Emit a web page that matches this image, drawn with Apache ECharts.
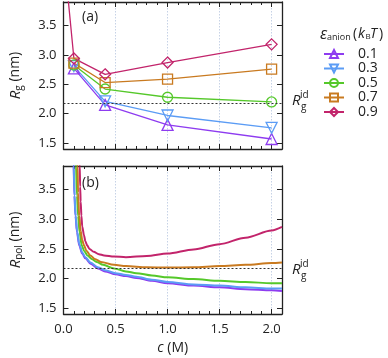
<!DOCTYPE html>
<html>
<head>
<meta charset="utf-8">
<script src="https://cdn.jsdelivr.net/npm/echarts@6/dist/echarts.min.js"></script>
<style>
html, body { margin: 0; padding: 0; background: #fff; }
#chart { width: 388px; height: 358px; }
</style>
</head>
<body>
<div id="chart"></div>
<script>
// legend entries (epsilon_anion in kBT)
var names = ['0.1', '0.3', '0.5', '0.7', '0.9'];

// panel (a): simulated Rg at four salt concentrations
var concA = [0.1, 0.4, 1.0, 2.0];
var concA09 = [0.02, 0.1, 0.4, 1.0, 2.0];
var rg01 = [2.77, 2.15, 1.81, 1.57];
var rg03 = [2.81, 2.21, 1.97, 1.76];
var rg05 = [2.83, 2.42, 2.28, 2.20];
var rg07 = [2.86, 2.53, 2.59, 2.76];
var rg09 = [4.40, 2.94, 2.67, 2.87, 3.18];

// panel (b): theory curves Rpol(c)
var pol01C = [0.093, 0.097, 0.105, 0.115, 0.13, 0.151, 0.18, 0.21, 0.26, 0.33, 0.4, 0.5, 0.6, 0.7, 0.85, 1.0, 1.25, 1.5, 1.75, 2.0, 2.1];
var pol01V = [4.30, 3.90, 3.40, 3.06, 2.78, 2.56, 2.42, 2.34, 2.25, 2.17, 2.12, 2.07, 2.04, 2.01, 1.96, 1.92, 1.88, 1.85, 1.82, 1.80, 1.79];
var pol03C = [0.094, 0.098, 0.106, 0.116, 0.131, 0.152, 0.18, 0.21, 0.26, 0.33, 0.4, 0.5, 0.6, 0.7, 0.85, 1.0, 1.25, 1.5, 1.75, 2.0, 2.1];
var pol03V = [4.30, 3.90, 3.40, 3.06, 2.79, 2.58, 2.44, 2.36, 2.27, 2.19, 2.14, 2.09, 2.06, 2.03, 1.98, 1.94, 1.90, 1.88, 1.85, 1.83, 1.83];
var pol05C = [0.115, 0.12, 0.13, 0.14, 0.155, 0.175, 0.2, 0.23, 0.27, 0.32, 0.38, 0.485, 0.6, 0.7, 0.85, 1.0, 1.25, 1.5, 1.75, 2.0, 2.1];
var pol05V = [4.20, 3.90, 3.40, 3.06, 2.78, 2.56, 2.46, 2.39, 2.33, 2.28, 2.23, 2.17, 2.12, 2.09, 2.05, 2.02, 1.99, 1.96, 1.94, 1.92, 1.92];
var pol07C = [0.132, 0.135, 0.14, 0.151, 0.165, 0.18, 0.197, 0.22, 0.257, 0.3, 0.36, 0.485, 0.6, 0.8, 1.0, 1.25, 1.5, 1.75, 2.0, 2.1];
var pol07V = [4.20, 3.90, 3.45, 3.06, 2.80, 2.65, 2.56, 2.47, 2.39, 2.33, 2.28, 2.23, 2.21, 2.19, 2.185, 2.19, 2.21, 2.23, 2.26, 2.27];
var pol09C = [0.153, 0.156, 0.16, 0.165, 0.172, 0.18, 0.197, 0.21, 0.227, 0.25, 0.29, 0.34, 0.39, 0.485, 0.6, 0.8, 1.0, 1.25, 1.5, 1.75, 2.0, 2.1];
var pol09V = [4.30, 3.90, 3.55, 3.30, 3.06, 2.88, 2.73, 2.63, 2.56, 2.50, 2.45, 2.41, 2.39, 2.37, 2.36, 2.38, 2.42, 2.49, 2.58, 2.69, 2.81, 2.87];

// ideal-chain reference
var RG_ID = 2.18;

// tick labels
var yTicks = [1.5, 2.0, 2.5, 3.0, 3.5];

var colors = ['#8e3cf0', '#5b9cf5', '#55c82a', '#c97a20', '#c2246b'];
var symbols = ['triangle', 'triangle', 'circle', 'rect', 'diamond'];
var rotations = [0, 180, 0, 0, 0];
var sizes = [11, 11, 10, 10, 11];

var FONT = "'Open Sans', sans-serif";

function zip(xs, ys) {
    return xs.map(function (x, i) { return [x, ys[i]]; });
}

var chart = echarts.init(document.getElementById('chart'));

var frame = { show: true, onZero: false, lineStyle: { color: '#222', width: 1.3 } };

function xAxis(gridIndex, position, showLabels) {
    return {
        type: 'value', gridIndex: gridIndex, position: position,
        min: 0, max: 2.1, interval: 0.5,
        axisLine: frame,
        axisTick: { show: true, inside: true, length: 5, lineStyle: { color: '#222', width: 1 } },
        minorTick: { show: true, splitNumber: 5, length: 3, lineStyle: { color: '#222', width: 1 } },
        splitLine: { show: position === 'bottom', lineStyle: { color: '#c6d2e6', type: [1.5, 1.5], width: 1 } },
        axisLabel: {
            show: showLabels, showMaxLabel: false, margin: 9,
            fontFamily: FONT, fontSize: 13, color: '#222',
            formatter: function (v) { return v.toFixed(1); }
        },
        name: showLabels ? '{i|c} (M)' : '',
        nameLocation: 'middle', nameGap: 27,
        nameTextStyle: {
            fontFamily: FONT, fontSize: 14, color: '#222',
            rich: { i: { fontFamily: FONT, fontStyle: 'italic', fontSize: 14, color: '#222' } }
        }
    };
}

function yAxis(gridIndex, position, name) {
    return {
        type: 'value', gridIndex: gridIndex, position: position,
        min: 1.4, max: 3.9,
        axisLine: frame,
        axisTick: { show: true, inside: true, length: 5, customValues: yTicks, lineStyle: { color: '#222', width: 1 } },
        splitLine: { show: false },
        axisLabel: {
            show: position === 'left', customValues: yTicks, margin: 7,
            fontFamily: FONT, fontSize: 13, color: '#222',
            formatter: function (v) { return v.toFixed(1); }
        },
        name: name || '',
        nameLocation: 'middle', nameGap: 39, nameRotate: 90,
        nameTextStyle: {
            fontFamily: FONT, fontSize: 14, color: '#222',
            rich: {
                i: { fontFamily: FONT, fontStyle: 'italic', fontSize: 15, color: '#222', lineHeight: 18 },
                s: { fontFamily: FONT, fontSize: 10, color: '#222', lineHeight: 18, verticalAlign: 'bottom' },
                n: { fontFamily: FONT, fontSize: 14, color: '#222', lineHeight: 18 }
            }
        }
    };
}

var refLine = {
    silent: true, symbol: 'none', label: { show: false },
    lineStyle: { color: '#333', type: [2, 2], width: 1 },
    data: [{ yAxis: RG_ID }]
};

var topX = [concA, concA, concA, concA, concA09];
var topY = [rg01, rg03, rg05, rg07, rg09];
var botX = [pol01C, pol03C, pol05C, pol07C, pol09C];
var botY = [pol01V, pol03V, pol05V, pol07V, pol09V];

var series = [];
names.forEach(function (n, i) {
    series.push({
        name: n, type: 'line', xAxisIndex: 0, yAxisIndex: 0,
        data: zip(topX[i], topY[i]),
        symbol: symbols[i], symbolRotate: rotations[i], symbolSize: sizes[i],
        showAllSymbol: true,
        lineStyle: { color: colors[i], width: 1.3 },
        itemStyle: { color: 'rgba(255,255,255,0)', borderColor: colors[i], borderWidth: 1.3 },
        emphasis: { disabled: true },
        markLine: i === 0 ? refLine : undefined
    });
});
names.forEach(function (n, i) {
    series.push({
        name: n, type: 'line', xAxisIndex: 2, yAxisIndex: 2,
        data: zip(botX[i], botY[i]),
        symbol: 'none', smooth: 0.3, smoothMonotone: 'x',
        lineStyle: { color: colors[i], width: 2 },
        itemStyle: { color: colors[i] },
        emphasis: { disabled: true },
        markLine: i === 0 ? refLine : undefined
    });
});

function txt(x, y, s, size, extra) {
    var style = { text: s, x: x, y: y, fontFamily: FONT, fontSize: size, fill: '#222', verticalAlign: 'middle' };
    for (var k in extra) style[k] = extra[k];
    return { type: 'text', style: style, silent: true };
}

var graphics = [
    txt(82, 17, '(a)', 14),
    txt(82, 183, '(b)', 14),
    // Rg^id labels
    txt(292, 101, 'R', 15, { fontStyle: 'italic' }),
    txt(300, 95, 'id', 10),
    txt(301, 107, 'g', 10),
    txt(292, 270, 'R', 15, { fontStyle: 'italic' }),
    txt(300, 264, 'id', 10),
    txt(301, 276, 'g', 10),
    // legend title: epsilon_anion (kB T)
    txt(320, 34, 'ε', 16, { fontStyle: 'italic' }),
    txt(327, 37, 'anion', 9),
    txt(353, 34, '(', 14),
    txt(358, 34, 'k', 14, { fontStyle: 'italic' }),
    txt(365.5, 37, 'B', 8),
    txt(370, 34, 'T', 14, { fontStyle: 'italic' }),
    txt(379, 34, ')', 14)
];

var option = {
    animation: false,
    backgroundColor: '#fff',
    grid: [
        { left: 52, top: 2, width: 230, height: 147 },
        { left: 52, top: 166, width: 230, height: 148 }
    ],
    xAxis: [xAxis(0, 'bottom', false), xAxis(0, 'top', false), xAxis(1, 'bottom', true), xAxis(1, 'top', false)],
    yAxis: [yAxis(0, 'left', '{i|R}{s|g}{n| (nm)}'), yAxis(0, 'right'), yAxis(1, 'left', '{i|R}{s|pol}{n| (nm)}'), yAxis(1, 'right')],
    legend: {
        data: names, orient: 'vertical', left: 318, top: 42,
        itemWidth: 20, itemHeight: 10, itemGap: 0.5,
        textStyle: { fontFamily: FONT, fontSize: 14, color: '#222', lineHeight: 14, padding: [0, 0, 0, 9] },
        selectedMode: false
    },
    graphic: graphics,
    series: series
};

chart.setOption(option);
</script>
</body>
</html>
